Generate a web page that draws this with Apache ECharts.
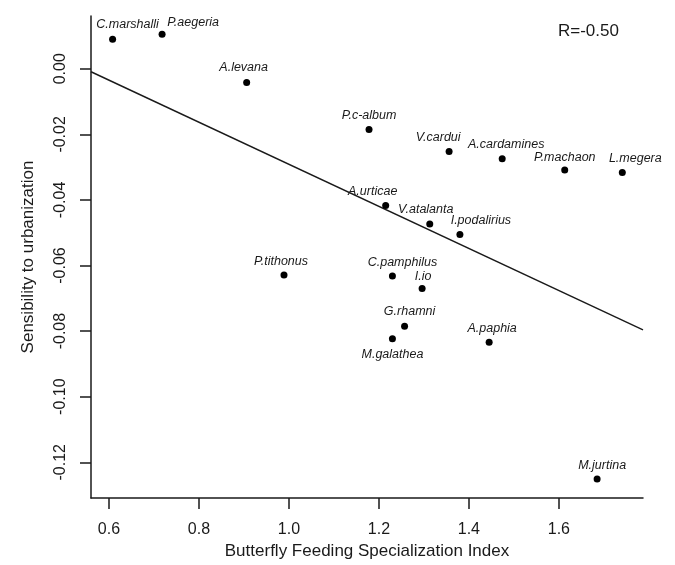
<!DOCTYPE html>
<html>
<head>
<meta charset="utf-8">
<title>Sensibility to urbanization</title>
<script src="https://cdn.jsdelivr.net/npm/echarts@6/dist/echarts.min.js"></script>
<style>
    html, body { margin: 0; padding: 0; background: #fff; }
    #chart { width: 675px; height: 565px; }
</style>
</head>
<body>
<div id="chart"></div>
<script>
// 物种名称
var species = ['C.marshalli', 'P.aegeria', 'A.levana', 'P.tithonus', 'P.c-album', 'V.cardui',
    'A.cardamines', 'P.machaon', 'L.megera', 'A.urticae', 'V.atalanta', 'I.podalirius',
    'C.pamphilus', 'I.io', 'G.rhamni', 'M.galathea', 'A.paphia', 'M.jurtina'];
// x: Butterfly Feeding Specialization Index
var feedIndex = [0.608, 0.718, 0.906, 0.989, 1.178, 1.356,
    1.474, 1.613, 1.741, 1.215, 1.313, 1.380,
    1.230, 1.296, 1.257, 1.230, 1.445, 1.685];
// y: Sensibility to urbanization
var sensibility = [0.0090, 0.0105, -0.0042, -0.0629, -0.0185, -0.0252,
    -0.0274, -0.0309, -0.0316, -0.0417, -0.0473, -0.0505,
    -0.0632, -0.0670, -0.0785, -0.0823, -0.0834, -0.1251];
// 回归线两端
var fitX = [0.56, 1.787];
var fitY = [-0.0009, -0.0796];
var xTicks = [0.6, 0.8, 1.0, 1.2, 1.4, 1.6];
var yTicks = [-0.12, -0.10, -0.08, -0.06, -0.04, -0.02, 0.00];
var rText = 'R=-0.50';

// 标签偏移（像素），仅用于排版
var labelShift = [[15, -15], [31, -12], [-3, -15], [-3, -14], [0, -14], [-11, -14],
    [4, -14], [0, -13], [13, -14], [-13, -14], [-4, -14], [21, -14],
    [10, -14], [1, -12], [5, -15], [0, 16], [3, -14], [5, -13]];

var FONT = 'Liberation Sans, Arial, sans-serif';
var INK = '#1a1a1a';

function buildPoints() {
    var pts = [];
    for (var i = 0; i < species.length; i++) {
        pts.push({
            name: species[i],
            value: [feedIndex[i], sensibility[i]],
            label: { offset: labelShift[i] }
        });
    }
    return pts;
}

function buildFit() {
    var line = [];
    for (var i = 0; i < fitX.length; i++) {
        line.push([fitX[i], fitY[i]]);
    }
    return line;
}

var option = {
    backgroundColor: '#fff',
    animation: false,
    grid: { left: 91, top: 16, right: 32, bottom: 65 },
    xAxis: {
        type: 'value',
        min: 0.56,
        max: 1.787,
        name: 'Butterfly Feeding Specialization Index',
        nameLocation: 'middle',
        nameGap: 45,
        nameTextStyle: { fontFamily: FONT, fontSize: 17, color: INK },
        axisLine: { show: true, onZero: false, lineStyle: { color: INK, width: 1.5 } },
        axisTick: { show: true, length: 11, customValues: xTicks, lineStyle: { color: INK, width: 1.5 } },
        axisLabel: {
            customValues: xTicks,
            margin: 24,
            fontFamily: FONT, fontSize: 16, color: INK,
            formatter: function (v) { return v.toFixed(1); }
        },
        splitLine: { show: false }
    },
    yAxis: {
        type: 'value',
        min: -0.1309,
        max: 0.0161,
        name: 'Sensibility to urbanization',
        nameLocation: 'middle',
        nameRotate: 90,
        nameGap: 54,
        nameTextStyle: { fontFamily: FONT, fontSize: 17, color: INK },
        axisLine: { show: true, onZero: false, lineStyle: { color: INK, width: 1.5 } },
        axisTick: { show: true, length: 11, customValues: yTicks, lineStyle: { color: INK, width: 1.5 } },
        axisLabel: {
            customValues: yTicks,
            rotate: 90,
            margin: 22,
            fontFamily: FONT, fontSize: 16, color: INK,
            formatter: function (v) { return v.toFixed(2); }
        },
        splitLine: { show: false }
    },
    graphic: [{
        type: 'text',
        left: 558,
        top: 23,
        style: { text: rText, fontFamily: FONT, fontSize: 17, fill: INK }
    }],
    series: [{
        type: 'line',
        data: buildFit(),
        showSymbol: false,
        silent: true,
        lineStyle: { color: INK, width: 1.4 },
        z: 1
    }, {
        type: 'scatter',
        data: buildPoints(),
        symbolSize: 7,
        itemStyle: { color: '#000', opacity: 1 },
        label: {
            show: true,
            position: 'inside',
            formatter: '{b}',
            fontFamily: FONT,
            fontStyle: 'italic',
            fontSize: 12.5,
            color: INK
        },
        z: 2
    }]
};

var chart = echarts.init(document.getElementById('chart'));
chart.setOption(option);
</script>
</body>
</html>
